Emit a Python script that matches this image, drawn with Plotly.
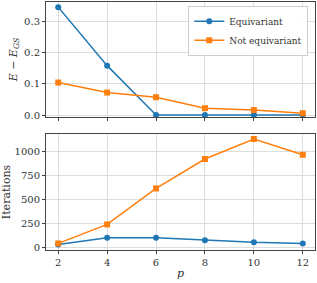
import plotly.graph_objects as go
from plotly.subplots import make_subplots

p = [2, 4, 6, 8, 10, 12]
energy_equiv = [0.345, 0.158, 0.0, 0.0, 0.0, 0.0]
energy_not = [0.104, 0.072, 0.057, 0.022, 0.016, 0.006]
iter_equiv = [31, 102, 102, 74, 53, 42]
iter_not = [42, 241, 618, 926, 1136, 971]

blue = "#1f77b4"
orange = "#ff7f0e"
font = "DejaVu Serif"

fig = make_subplots(rows=2, cols=1, shared_xaxes=False, vertical_spacing=0.068)

fig.add_trace(go.Scatter(x=p, y=energy_equiv, mode="lines+markers", name="Equivariant",
                         line=dict(color=blue, width=1.5), marker=dict(symbol="circle", size=6, color=blue)), 1, 1)
fig.add_trace(go.Scatter(x=p, y=energy_not, mode="lines+markers", name="Not equivariant",
                         line=dict(color=orange, width=1.5), marker=dict(symbol="square", size=6, color=orange)), 1, 1)
fig.add_trace(go.Scatter(x=p, y=iter_equiv, mode="lines+markers", showlegend=False,
                         line=dict(color=blue, width=1.5), marker=dict(symbol="circle", size=6, color=blue)), 2, 1)
fig.add_trace(go.Scatter(x=p, y=iter_not, mode="lines+markers", showlegend=False,
                         line=dict(color=orange, width=1.5), marker=dict(symbol="square", size=6, color=orange)), 2, 1)

axis_common = dict(showline=True, mirror=True, linecolor="#444", linewidth=1,
                   showgrid=True, gridcolor="#dddddd", gridwidth=1, zeroline=False,
                   ticks="outside", ticklen=3, tickcolor="#444",
                   tickfont=dict(family=font, size=10, color="#333"))

fig.update_xaxes(range=[1.5, 12.5], tickvals=p, **axis_common)
fig.update_xaxes(showticklabels=False, row=1, col=1)
fig.update_xaxes(title=dict(text="<i>p</i>", font=dict(family=font, size=11, color="#333"), standoff=2), row=2, col=1)
fig.update_yaxes(**axis_common)
fig.update_yaxes(range=[-0.0064, 0.3614], tickvals=[0.0, 0.1, 0.2, 0.3], ticktext=["0.0", "0.1", "0.2", "0.3"],
                 title=dict(text="<i>E</i> − <i>E</i><sub><i>GS</i></sub>", font=dict(family=font, size=11, color="#333"), standoff=4),
                 row=1, col=1)
fig.update_yaxes(range=[-27, 1189], tickvals=[0, 250, 500, 750, 1000],
                 title=dict(text="Iterations", font=dict(family=font, size=11, color="#333"), standoff=4),
                 row=2, col=1)

fig.update_layout(
    width=317, height=283,
    margin=dict(l=46, r=2, t=2, b=33),
    plot_bgcolor="white", paper_bgcolor="white",
    font=dict(family=font, size=10, color="#333"),
    legend=dict(x=0.975, y=0.985, xanchor="right", yanchor="top",
                bgcolor="rgba(255,255,255,0.9)", bordercolor="#cccccc", borderwidth=1,
                font=dict(family=font, size=9), tracegroupgap=0, itemwidth=30),
)
fig.layout.yaxis.domain = [0.536, 1.0]
fig.layout.yaxis2.domain = [0.0, 0.468]

fig.write_html("out.html", config={"displayModeBar": False},
               post_script="document.body.style.margin='0';document.body.style.overflow='hidden';")
